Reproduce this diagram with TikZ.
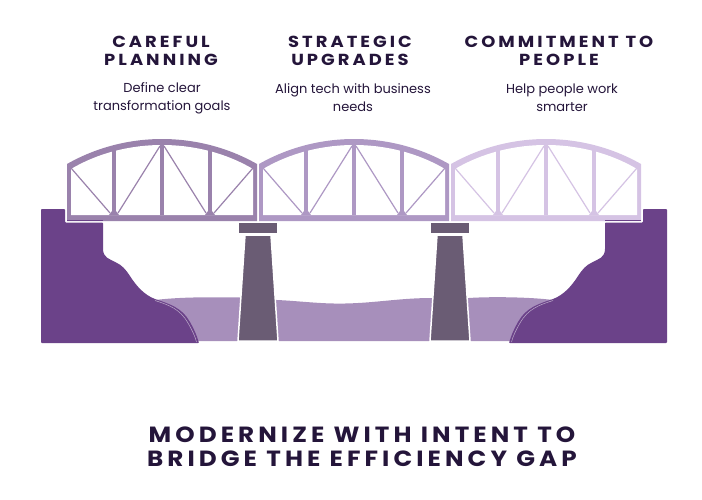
\documentclass[tikz,border=0pt]{standalone}
\usepackage{fontspec}
\setmainfont{Poppins}
\newfontfamily\headfont[LetterSpace=19,FakeStretch=1.12]{Poppins}
\newfontfamily\titlefont[LetterSpace=18.5,FakeStretch=1.12]{Poppins}
\definecolor{spanone}{HTML}{9A82AC}
\definecolor{spantwo}{HTML}{AE98C4}
\definecolor{spanthree}{HTML}{D5C3E4}
\definecolor{landcol}{HTML}{6B4289}
\definecolor{piercol}{HTML}{6A5C74}
\definecolor{watercol}{HTML}{A78FBB}
\definecolor{inkcol}{HTML}{24153A}
\tikzset{
    headlabel/.style={align=center,text=inkcol,font=\headfont\bfseries\fontsize{16}{18}\selectfont,inner sep=0pt},
    bodylabel/.style={align=center,text=inkcol,font=\fontsize{13}{18}\selectfont,inner sep=0pt},
    titlelabel/.style={align=center,text=inkcol,font=\titlefont\bfseries\fontsize{22}{24}\selectfont,inner sep=0pt}
}
\begin{document}
\begin{tikzpicture}[x=1pt,y=-1pt]
        \useasboundingbox (0,0) rectangle (702,499);
        \def\landshape{(41,209) -- (65,209) -- (65,222.5) -- (103,222.5) -- (103,248)
            .. controls (103,258) and (110,259) .. (115,262)
            .. controls (122,265) and (126,270) .. (130,276)
            .. controls (137,287) and (145,295) .. (155,299)
            .. controls (170,304) and (182,308) .. (190,322)
            .. controls (194,329) and (197,336) .. (199,343) -- (41,343) -- cycle}
        \def\landedge{(155,300.5) .. controls (169,305) and (180,309) .. (188,323) .. controls (192,330) and (195,336) .. (196.5,342)}
        \def\piershape{(245,235) -- (271,235) -- (278,341) -- (238,341) -- cycle}
        % water first, everything else sits on it
        \fill[watercol] (155,300) .. controls (180,297) and (210,297) .. (240,297.5)
            -- (277,300) .. controls (300,301) and (320,304) .. (345,303.5)
            .. controls (375,303) and (400,298) .. (432,298)
            -- (469,298) .. controls (490,296.5) and (530,297) .. (553,300)
            -- (553,341) -- (155,341) -- cycle;
        % banks
        \fill[landcol,rounded corners=0.8pt] \landshape;
        \draw[white!55!landcol,line width=0.5pt] \landedge;
        \begin{scope}[xscale=-1,xshift=-708pt]
            \fill[landcol,rounded corners=0.8pt] \landshape;
            \draw[white!55!landcol,line width=0.5pt] \landedge;
        \end{scope}
        % piers
        \foreach \xoff in {0,192} {
            \begin{scope}[xshift=\xoff pt]
                \fill[piercol] (239,223) rectangle (277,233);
                \fill[piercol,draw=white,line width=1.5pt] \piershape;
            \end{scope}
        }
        % the three spans
        \foreach \xoff/\spancol in {0/spanone,192/spantwo,384/spanthree} {
            \begin{scope}[xshift=\xoff pt]
                \fill[\spancol] (67,164) .. controls (95,148) and (128,139) .. (162,139)
                    .. controls (196,139) and (229,148) .. (257,164) -- (257,221) -- (67,221) -- cycle;
                \fill[white] (71,169) .. controls (98,153) and (130,145) .. (162,145)
                    .. controls (194,145) and (226,153) .. (253,169) -- (253,215) -- (71,215) -- cycle;
                \fill[\spancol] (112,150) rectangle (116,215);
                \fill[\spancol] (160,145) rectangle (164,215);
                \fill[\spancol] (208,150) rectangle (212,215);
                \draw[\spancol,line width=1.2pt] (71,168) -- (110,213);
                \draw[\spancol,line width=1.2pt] (118,213) -- (160,146);
                \draw[\spancol,line width=1.2pt] (164,146) -- (206,213);
                \draw[\spancol,line width=1.2pt] (214,213) -- (253,168);
                \fill[\spancol] (109,215) -- (112,211) -- (116,211) -- (119,215) -- cycle;
                \fill[\spancol] (205,215) -- (208,211) -- (212,211) -- (215,215) -- cycle;
            \end{scope}
        }
        \fill[landcol] (67,220.2) rectangle (103,221);
        \fill[landcol] (605,220.2) rectangle (641,221);
        % labels
        \node[headlabel] (careful) at (161,51) {CAREFUL\\PLANNING};
        \node[headlabel] (strategic) at (350,51) {STRATEGIC\\UPGRADES};
        \node[headlabel] (commitment) at (559,51) {COMMITMENT TO\\PEOPLE};
        \node[bodylabel] (define) at (162,98) {Define clear\\transformation goals};
        \node[bodylabel] (align) at (353,98) {Align tech with business\\needs};
        \node[bodylabel] (help) at (562,98) {Help people work\\smarter};
        \node[titlelabel] (title) at (362,447) {MODERNIZE WITH INTENT TO\\BRIDGE THE EFFICIENCY GAP};
    \end{tikzpicture}
\end{document}
